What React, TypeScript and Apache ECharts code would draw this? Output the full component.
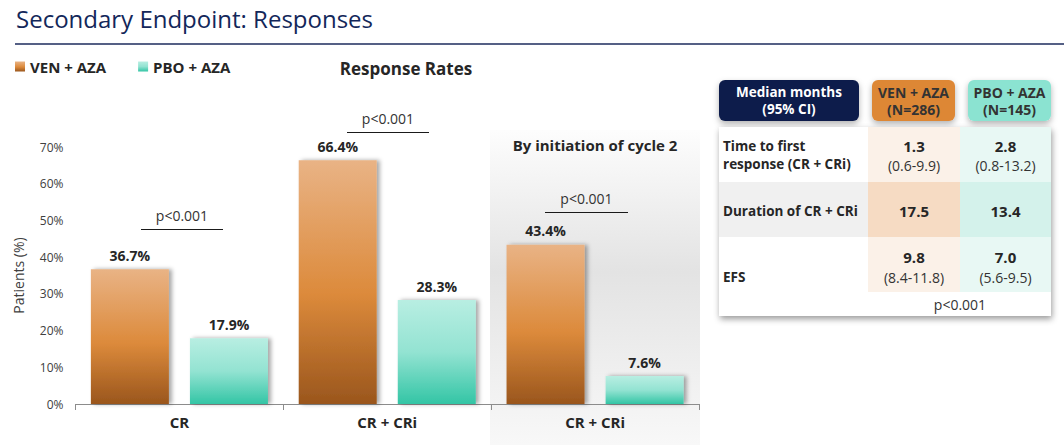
import React, { useEffect, useRef } from "react";
import * as echarts from "echarts";

const categories = ["CR", "CR + CRi", "CR + CRi"];
const seriesNames = ["VEN + AZA", "PBO + AZA"];
const venAza = [36.7, 66.4, 43.4];
const pboAza = [17.9, 28.3, 7.6];
const yTicks = [0, 10, 20, 30, 40, 50, 60, 70];
const pText = "p<0.001";

const headerCells = [
  ["Median months", "(95% CI)"],
  ["VEN + AZA", "(N=286)"],
  ["PBO + AZA", "(N=145)"],
];
const rowLabels = [["Time to first", "response (CR + CRi)"], ["Duration of CR + CRi"], ["EFS"]];
const venMedians = ["1.3", "17.5", "9.8"];
const venCI = ["(0.6-9.9)", "", "(8.4-11.8)"];
const pboMedians = ["2.8", "13.4", "7.0"];
const pboCI = ["(0.8-13.2)", "", "(5.6-9.5)"];

const FONT = "Open Sans";

export default function App() {
  const ref = useRef<HTMLDivElement>(null);
  useEffect(() => {
    document.body.style.margin = "0";
    const chart = echarts.init(ref.current!, undefined, { renderer: "svg" });
    const orangeGrad = new echarts.graphic.LinearGradient(0, 0, 0, 1, [
      { offset: 0, color: "#e9b385" },
      { offset: 0.55, color: "#dc8a3b" },
      { offset: 1, color: "#9a561d" },
    ]);
    const tealGrad = new echarts.graphic.LinearGradient(0, 0, 0, 1, [
      { offset: 0, color: "#b8eee2" },
      { offset: 0.5, color: "#93e3d2" },
      { offset: 1, color: "#33c5a5" },
    ]);
    const labelStyle = {
      show: true,
      position: "top",
      distance: 7,
      formatter: (p: any) => p.value.toFixed(1) + "%",
      fontFamily: FONT,
      fontWeight: "bold",
      fontSize: 14,
      color: "#262626",
    };
    const barShadow = {
      shadowBlur: 4,
      shadowColor: "rgba(0,0,0,0.35)",
      shadowOffsetX: 3,
      shadowOffsetY: 0,
    };

    const graphics: any[] = [];
    graphics.push({
      type: "line",
      shape: { x1: 15, y1: 44, x2: 1064, y2: 44 },
      style: { stroke: "#1c2b5c", lineWidth: 1.5 },
      z: 10,
    });
    graphics.push({
      type: "text",
      x: 406,
      y: 68,
      style: {
        text: "Response Rates",
        font: `bold 17px "${FONT}"`,
        fill: "#262626",
        align: "center",
        verticalAlign: "middle",
      },
    });
    graphics.push({
      type: "rect",
      shape: { x: 490, y: 130, width: 210, height: 315 },
      style: {
        fill: new echarts.graphic.LinearGradient(0, 0, 0, 1, [
          { offset: 0, color: "#fdfdfd" },
          { offset: 0.45, color: "#e3e3e3" },
          { offset: 1, color: "#f8f8f8" },
        ]),
      },
      z: -10,
    });
    graphics.push({
      type: "text",
      x: 595,
      y: 145,
      style: {
        text: "By initiation of cycle 2",
        font: `bold 15px "${FONT}"`,
        fill: "#262626",
        align: "center",
        verticalAlign: "middle",
      },
    });
    const brackets = [
      { x1: 141, x2: 223, y: 229.5 },
      { x1: 347, x2: 429, y: 132.5 },
      { x1: 545, x2: 628, y: 212.5 },
    ];
    brackets.forEach((b) => {
      graphics.push({
        type: "line",
        shape: { x1: b.x1, y1: b.y, x2: b.x2, y2: b.y },
        style: { stroke: "#1a1a1a", lineWidth: 1 },
      });
      graphics.push({
        type: "text",
        x: (b.x1 + b.x2) / 2,
        y: b.y - 14,
        style: {
          text: pText,
          font: `14px "${FONT}"`,
          fill: "#333",
          align: "center",
          verticalAlign: "middle",
        },
      });
    });

    const boxes = [
      { x: 719, w: 140, fill: "#0b1f4b", color: "#ffffff" },
      { x: 872, w: 83, fill: "#dd8736", color: "#333333" },
      { x: 968, w: 83, fill: "#8be3d1", color: "#333333" },
    ];
    boxes.forEach((b, i) => {
      graphics.push({
        type: "rect",
        shape: { x: b.x, y: 80, width: b.w, height: 41, r: 6 },
        style: {
          fill: b.fill,
          shadowBlur: 6,
          shadowColor: "rgba(0,0,0,0.3)",
          shadowOffsetY: 3,
        },
        z: 5,
      });
      graphics.push({
        type: "text",
        x: b.x + b.w / 2,
        y: 100.5,
        style: {
          text: headerCells[i].join("\n"),
          font: `bold ${i === 0 ? 13.5 : 14}px "${FONT}"`,
          lineHeight: 17,
          fill: b.color,
          align: "center",
          verticalAlign: "middle",
        },
        z: 6,
      });
    });
    const tX = 719, tW = 332, c1 = 868, c2 = 960;
    const rowsY = [127, 182, 237, 292, 316];
    graphics.push({
      type: "rect",
      shape: { x: tX, y: 127, width: tW, height: 189 },
      style: {
        fill: "#ffffff",
        shadowBlur: 6,
        shadowColor: "rgba(0,0,0,0.4)",
        shadowOffsetY: 3,
        shadowOffsetX: 1,
      },
      z: 5,
    });
    const rowFills = [
      ["#ffffff", "#fbf1e8", "#e8f8f4"],
      ["#f0f0f0", "#f6dbc3", "#d4f2eb"],
      ["#ffffff", "#fbf1e8", "#e8f8f4"],
    ];
    const colX = [tX, c1, c2, tX + tW];
    for (let r = 0; r < 3; r++) {
      for (let c = 0; c < 3; c++) {
        graphics.push({
          type: "rect",
          shape: {
            x: colX[c],
            y: rowsY[r],
            width: colX[c + 1] - colX[c],
            height: rowsY[r + 1] - rowsY[r],
          },
          style: { fill: rowFills[r][c] },
          z: 6,
        });
      }
    }
    const valueRows = [
      { label: 155, v: 146, ci: 165 },
      { label: 211, v: 211, ci: 0 },
      { label: 277, v: 257, ci: 277 },
    ];
    const colCenters = [914, 1005.5];
    for (let r = 0; r < 3; r++) {
      graphics.push({
        type: "text",
        x: 723,
        y: valueRows[r].label,
        style: {
          text: rowLabels[r].join("\n"),
          font: `bold 13.5px "${FONT}"`,
          lineHeight: 18,
          fill: "#262626",
          align: "left",
          verticalAlign: "middle",
        },
        z: 7,
      });
      const meds = [venMedians[r], pboMedians[r]];
      const cis = [venCI[r], pboCI[r]];
      for (let c = 0; c < 2; c++) {
        graphics.push({
          type: "text",
          x: colCenters[c],
          y: valueRows[r].v,
          style: {
            text: meds[c],
            font: `bold 15px "${FONT}"`,
            fill: "#262626",
            align: "center",
            verticalAlign: "middle",
          },
          z: 7,
        });
        if (cis[c]) {
          graphics.push({
            type: "text",
            x: colCenters[c],
            y: valueRows[r].ci,
            style: {
              text: cis[c],
              font: `14px "${FONT}"`,
              fill: "#333",
              align: "center",
              verticalAlign: "middle",
            },
            z: 7,
          });
        }
      }
    }
    graphics.push({
      type: "text",
      x: 960,
      y: 304,
      style: {
        text: pText,
        font: `14px "${FONT}"`,
        fill: "#333",
        align: "center",
        verticalAlign: "middle",
      },
      z: 7,
    });

    chart.setOption({
      animation: false,
      textStyle: { fontFamily: FONT },
      title: {
        text: "Secondary Endpoint: Responses",
        left: 11,
        top: 1,
        textStyle: {
          fontFamily: FONT,
          fontSize: 24,
          fontWeight: "normal",
          color: "#13275a",
        },
      },
      legend: {
        left: 15,
        top: 59,
        padding: 0,
        itemWidth: 10,
        itemHeight: 10,
        itemGap: 32,
        icon: "rect",
        data: seriesNames,
        textStyle: {
          fontFamily: FONT,
          fontWeight: "bold",
          fontSize: 15,
          color: "#262626",
        },
      },
      grid: { left: 75.5, right: 365, top: 147, bottom: 41, containLabel: false },
      xAxis: {
        type: "category",
        data: categories,
        axisLine: { lineStyle: { color: "#8c8c8c", width: 1 } },
        axisTick: { show: true, length: 6, lineStyle: { color: "#8c8c8c" } },
        axisLabel: {
          fontFamily: FONT,
          fontWeight: "bold",
          fontSize: 15,
          color: "#262626",
          margin: 10,
        },
      },
      yAxis: {
        type: "value",
        min: yTicks[0],
        max: yTicks[yTicks.length - 1],
        interval: 10,
        name: "Patients (%)",
        nameLocation: "middle",
        nameGap: 50,
        nameTextStyle: { fontFamily: FONT, fontSize: 14, color: "#404040" },
        axisLine: { show: false },
        axisTick: { show: false },
        splitLine: { show: false },
        axisLabel: {
          formatter: "{value}%",
          fontFamily: FONT,
          fontSize: 12,
          color: "#404040",
          margin: 12,
        },
      },
      series: [
        {
          name: seriesNames[0],
          type: "bar",
          data: venAza,
          barWidth: 78,
          barGap: "27%",
          itemStyle: { color: orangeGrad, ...barShadow },
          label: labelStyle,
        },
        {
          name: seriesNames[1],
          type: "bar",
          data: pboAza,
          barWidth: 78,
          barGap: "27%",
          itemStyle: { color: tealGrad, ...barShadow },
          label: labelStyle,
        },
      ],
      graphic: graphics,
    });
    return () => chart.dispose();
  }, []);
  return (
    <div
      ref={ref}
      style={{ position: "fixed", left: 0, top: 0, width: 1064, height: 445, background: "#fff" }}
    />
  );
}
